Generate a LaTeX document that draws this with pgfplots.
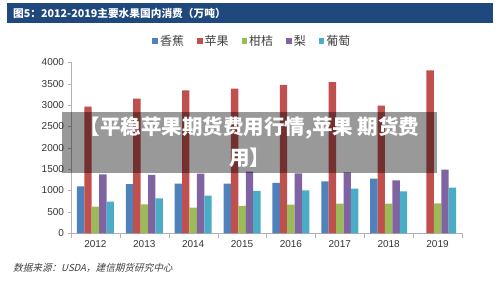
\documentclass[border=0pt]{standalone}
\usepackage{fontspec}
\usepackage{pgfplots}
\pgfplotsset{compat=1.18}
\setmainfont{Liberation Sans}
\newfontfamily\cjk{Noto Sans CJK SC}
\newfontfamily\cjksl{Noto Sans CJK SC}[FakeSlant=0.25]
\definecolor{cBan}{HTML}{4F81BD}
\definecolor{cApp}{HTML}{C0504D}
\definecolor{cCit}{HTML}{9BBB59}
\definecolor{cPea}{HTML}{8064A2}
\definecolor{cGra}{HTML}{4BACC6}
\definecolor{banner}{HTML}{1F497D}
\begin{document}
\begin{tikzpicture}[x=1pt,y=1pt]
\path[use as bounding box] (0,0) rectangle (500,286);
\fill[banner] (7,263) rectangle (493,283);
\node[anchor=west, text=white, font=\cjk\bfseries\fontsize{10.7}{13}\selectfont, inner sep=0] at (13,273) {图5：2012-2019主要水果国内消费（万吨）};
\begin{axis}[
  at={(71pt,52.7pt)}, anchor=south west,
  scale only axis, width=391pt, height=171pt,
  ybar=0pt, bar width=7.4pt,
  xmin=-0.5, xmax=7.5, ymin=0, ymax=4000,
  enlargelimits=false,
  axis x line*=bottom, axis y line*=left,
  axis line style={-, draw=black!30},
  xtick={0,...,7},
  xticklabels={2012,2013,2014,2015,2016,2017,2018,2019},
  minor xtick={-0.5,0.5,...,7.5},
  major x tick style={draw=none},
  minor x tick style={draw=black!30},
  y tick style={draw=black!30},
  major tick length=3.5pt, minor tick length=4.5pt,
  tick align=outside,
  ytick={0,500,...,4000},
  /pgf/number format/assume math mode=true,
  /pgf/number format/1000 sep={},
  ticklabel style={font=\fontsize{10}{12}\selectfont, text=black!80},
  legend style={at={(0.464,1.125)}, anchor=center, draw=none, fill=none,
    legend columns=5, font=\cjk\fontsize{12}{14}\selectfont, text=black!75,
    /tikz/every even column/.append style={column sep=11pt}},
  legend image code/.code={\fill[#1] (0pt,-2.8pt) rectangle (5.6pt,2.8pt);},
  clip=false,
]
\addplot[draw=none, fill=cBan] coordinates {(0,1095) (1,1148) (2,1161) (3,1160) (4,1177) (5,1216) (6,1278) (7,0)};
\addplot[draw=none, fill=cApp] coordinates {(0,2962) (1,3150) (2,3345) (3,3383) (4,3469) (5,3539) (6,2986) (7,3812)};
\addplot[draw=none, fill=cCit] coordinates {(0,622) (1,678) (2,600) (3,640) (4,670) (5,693) (6,693) (7,701)};
\addplot[draw=none, fill=cPea] coordinates {(0,1380) (1,1364) (2,1395) (3,1442) (4,1403) (5,1427) (6,1240) (7,1489)};
\addplot[draw=none, fill=cGra] coordinates {(0,740) (1,818) (2,880) (3,990) (4,1005) (5,1045) (6,982) (7,1067)};
\legend{香蕉,苹果,柑桔,梨,葡萄}
\end{axis}
\node[anchor=west, font=\cjksl\fontsize{9.6}{11}\selectfont, text=black!75, inner sep=0] at (13,18) {数据来源：USDA，建信期货研究中心};
\fill[black, opacity=0.4] (62,113) rectangle (437,174);
\node[align=center, text=white, font=\cjk\bfseries\fontsize{20.5}{31}\selectfont, inner sep=0] at (249.5,143.5) {【平稳苹果期货费用行情,苹果 期货费\\用】};
\end{tikzpicture}
\end{document}
